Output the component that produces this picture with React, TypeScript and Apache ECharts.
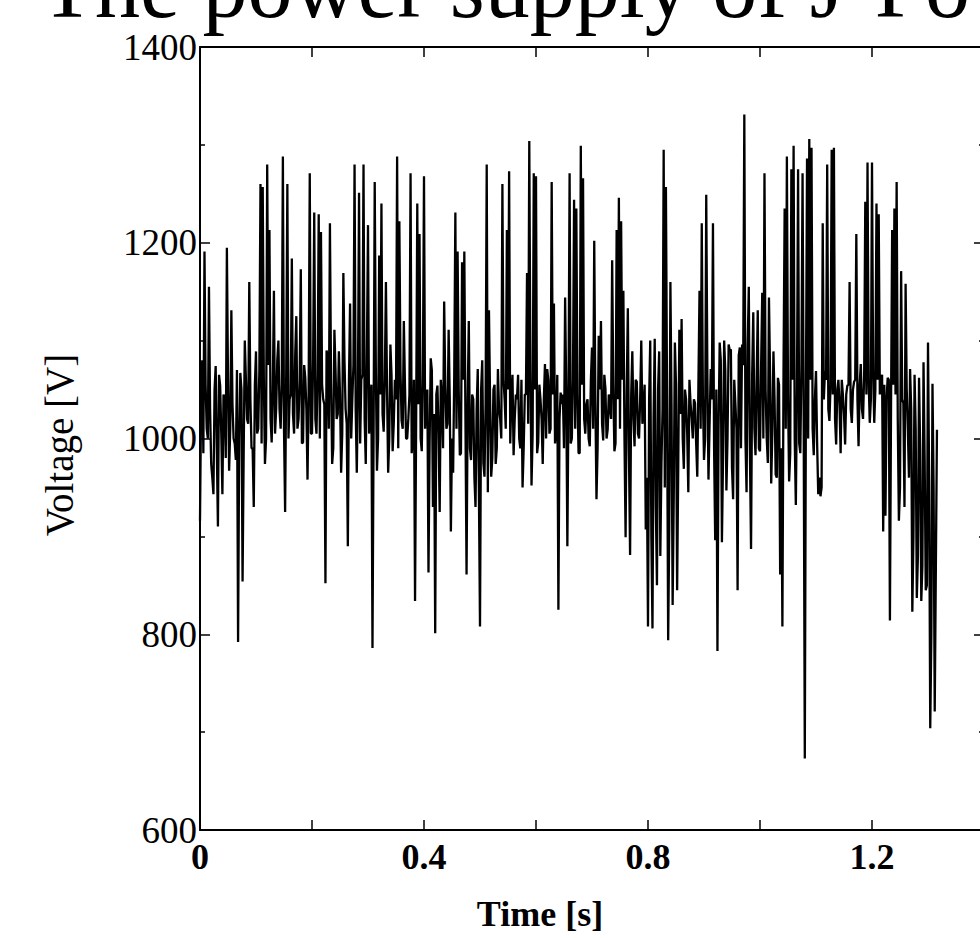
import React, { useEffect, useRef } from "react";
import * as echarts from "echarts";

const chartTitle = "The power supply of J-Power";
const xAxisName = "Time [s]";
const yAxisName = "Voltage [V]";
const xTickLabels = ["0", "0.4", "0.8", "1.2"];
const yRange = [600, 1400];
const xRange = [0, 1.4];
const sampleStep = 0.004; // s between the main samples; the core-band samples sit halfway between them

// extremes read at t = i * sampleStep
const voltage = [
  916, 1080, 1191, 1010, 1155, 974, 943, 1074, 910, 1054,
  943, 1040, 1195, 967, 1131, 1000, 978, 792, 1067, 854,
  1100, 1020, 1160, 990, 930, 1089, 1010, 1260, 1257, 974,
  1280, 1213, 996, 1151, 1030, 1100, 1010, 1288, 925, 1260,
  1040, 1184, 1005, 1125, 1020, 1173, 996, 1062, 958, 1271,
  1005, 1231, 1005, 1229, 1211, 1040, 852, 1085, 1220, 974,
  1111, 1020, 1089, 965, 1169, 1030, 890, 1138, 1040, 1280,
  965, 1251, 1060, 1280, 974, 1218, 1040, 786, 1262, 967,
  1187, 1240, 1007,
  1160, 965, 1096, 987, 1060, 1288, 1222, 1018, 1120, 1000,
  1020, 1271, 1000, 834, 1240, 1209, 987, 1268, 1040, 863,
  1082, 930, 801, 1054, 925, 1040, 1140, 1010, 1111, 905,
  965, 1231, 1191, 983, 1180, 1191, 861, 1120, 978, 1040,
  930, 1071, 808, 1080, 961, 1280, 1131, 961, 1050, 974,
  1071, 1020, 1260, 1040, 1213, 1273, 1040, 983, 1045, 1065,
  990, 950, 1045, 1169, 1304, 952, 1271, 1268, 996, 1040,
  974, 1076, 1071, 1005, 1262, 1138, 1010, 825, 1047, 1045,
  1144,
  890, 1271, 1000, 1244, 1235, 985, 1299, 1266, 1005, 1040,
  992, 1093, 1202, 938, 1105, 1120, 998, 1051, 1009, 1032,
  1182, 987, 1213, 1246, 1222, 1151, 899, 1133, 881, 1089,
  992, 1058, 1000, 1100, 1030, 907, 808, 1100, 806, 1102,
  850, 1089, 974, 1295, 1257, 794, 1160, 830, 1098, 845,
  1111, 1122, 969, 1040, 945, 1036, 1000, 1036, 961, 1151,
  1220, 978, 1249, 958, 1071, 1220, 896, 783, 1098, 894,
  1100, 947, 1096, 1091, 938, 1036, 845, 1093, 1096, 1331,
  945, 1155, 887, 1129,
  983, 1131, 987, 1149, 1271, 1000, 1144, 954, 1089, 963,
  1062, 861, 808, 1235, 1288, 956, 1275, 1299, 932, 1275,
  985, 1271, 673, 1286, 1306, 1297, 983, 1069, 943, 941,
  1220, 1069, 1280, 1018, 1295, 1297, 994, 1060, 985, 1045,
  994, 1054, 1160, 1016, 1058, 1209, 992, 1076, 1020, 1242,
  1282, 1016, 1282, 1016, 1240, 1229, 1062, 905, 921, 1062,
  814, 1213, 1235, 1262, 916, 1171, 1036, 1158, 1009, 1071,
  823, 1065, 837, 1062, 834, 1078, 845, 1098, 704, 1056,
  721, 1009,
];

// dense core-band readings at t = (i + 0.5) * sampleStep
const coreBand = [
  1040, 985, 1055, 1000, 1030, 960, 1050, 990, 1065, 1005,
  1045, 980, 1060, 1010, 1035, 995, 1070, 1000, 1050, 985,
  1060, 1015, 1040, 990, 1055, 1005, 1070, 995,
  1060, 1000, 1075, 1020, 1050, 1005, 1080, 1030, 1055, 1010,
  1070, 1000, 1045, 1025, 1085, 1010, 1060, 995, 1075, 1030,
  1050, 1005, 1080, 1020, 1065, 1000, 1055, 1035, 1090, 1010,
  1060, 990, 1070, 1025, 1045, 1005, 1080, 1015, 1060, 1000,
  1075, 1030, 1050, 995, 1065, 1020, 1085, 1005, 1055, 1010,
  1070, 1000, 1045, 1025, 1060,
  1050, 1000, 1065, 1015, 1040, 990, 1070, 1010, 1055, 1000,
  1045, 985, 1060, 1020, 1035, 1000, 1065, 1010, 1050, 995,
  1070, 1025, 1045, 1005, 1060, 990, 1055, 1015, 1040, 1000,
  1065, 1010, 1050, 985, 1060, 1020, 1040,
  990, 1045, 960, 1030, 950, 1050, 975, 1035, 945, 1040, 980, 1055, 990, 1030, 1000, 1060,
  1010, 1050, 995, 1065, 1020, 1040, 1000, 1060, 990, 1045,
  1015, 1070, 1005, 1050, 985, 1055, 1020, 1040, 1000, 1060,
  1010, 1045, 995, 1065, 1020, 1035, 990, 1050,
  1040, 995, 1060, 1010, 1045, 985, 1055, 1020, 1035, 1000,
  1060, 1010, 1040, 990, 1050, 1015, 1065, 1000, 1045, 1020,
  1055, 995, 1040, 1010, 1060, 1000, 1050, 985, 1045, 1020,
  1060, 1005, 1040, 1015, 1055,
  960, 1040, 900, 1020, 930, 1050, 880, 1030, 950, 1045, 910, 1035, 940, 1055, 970, 1025, 1000,
  1050, 1005, 1060, 1020, 1040, 995, 1055, 1010, 1045, 1000, 1065, 1015, 1040, 990, 1050, 1010,
  1080, 980, 1070, 1000, 1090, 970, 1060, 1010, 1085, 990, 1075, 1000, 1095, 985, 1065, 1010,
  1060, 990, 1075, 1000, 1050, 975, 1065, 1005, 1040, 960,
  1055, 990, 1070, 1010, 1045, 985, 1060, 1000, 1050, 995,
  1075, 1020, 1045, 1000, 1060, 1010, 1040, 995,
  960, 950, 1040, 1060, 1030, 1055, 1045, 1020, 1050, 1035,
  1060, 1025, 1045, 1055, 1030, 1050, 1060, 1040, 1055, 1030,
  1065, 1045, 1060, 1040, 1070, 1050, 1060, 1045, 1065, 1055,
  1040, 1060, 1035, 1055, 1045,
  1020, 950, 1040, 930, 1050, 960, 1030, 900, 1010, 880,
  990, 870, 980, 850, 960, 800, 950,
];

const FONT = '"Liberation Serif", "Times New Roman", serif';

export default function App() {
  const ref = useRef<HTMLDivElement>(null);
  useEffect(() => {
    if (!ref.current) return;
    const chart = echarts.init(ref.current, null, { renderer: "svg" });
    const data: number[][] = [];
    voltage.forEach((v, i) => {
      data.push([i * sampleStep, v]);
      if (i < coreBand.length) data.push([(i + 0.5) * sampleStep, coreBand[i]]);
    });
    const axisLine = { show: true, onZero: false, lineStyle: { color: "#000", width: 2 } };
    const tick = { show: true, inside: true, length: 10, lineStyle: { color: "#000", width: 1.5 } };
    const minor = { show: true, splitNumber: 2, length: 5, lineStyle: { color: "#000", width: 1.5 } };
    const fmtX = (v: number) => {
      const s = String(Math.round(v * 10) / 10);
      return xTickLabels.includes(s) ? s : "";
    };
    chart.setOption({
      animation: false,
      backgroundColor: "#fff",
      grid: { left: 200, top: 47, width: 784, height: 783, containLabel: false, outerBoundsMode: "none" },
      xAxis: [
        {
          type: "value", min: xRange[0], max: xRange[1], interval: 0.2, position: "bottom",
          axisLine, axisTick: tick, splitLine: { show: false },
          axisLabel: { formatter: fmtX, fontFamily: FONT, fontSize: 36, fontWeight: "bold", color: "#000", margin: 9 },
        },
        {
          type: "value", min: xRange[0], max: xRange[1], interval: 0.2, position: "top",
          axisLine, axisTick: tick, splitLine: { show: false }, axisLabel: { show: false },
        },
      ],
      yAxis: [
        {
          type: "value", min: yRange[0], max: yRange[1], interval: 200, position: "left",
          axisLine, axisTick: tick, minorTick: minor, splitLine: { show: false }, minorSplitLine: { show: false },
          axisLabel: { formatter: (v: number) => String(v), fontFamily: FONT, fontSize: 37, color: "#000", margin: 3 },
        },
        {
          type: "value", min: yRange[0], max: yRange[1], interval: 200, position: "right",
          axisLine, axisTick: tick, minorTick: minor, splitLine: { show: false }, minorSplitLine: { show: false },
          axisLabel: { show: false },
        },
      ],
      series: [
        {
          type: "line", xAxisIndex: 0, yAxisIndex: 0, data, showSymbol: false, silent: true,
          lineStyle: { color: "#000", width: 2.3 },
        },
      ],
      graphic: [
        {
          type: "text", x: 40, y: -14,
          style: { text: chartTitle, font: `90px ${FONT}`, fill: "#000", textAlign: "left", verticalAlign: "middle", textVerticalAlign: "middle" },
        },
        {
          type: "text", x: 59, y: 445, rotation: Math.PI / 2,
          style: { text: yAxisName, font: `39px ${FONT}`, fill: "#000", textAlign: "center", verticalAlign: "middle", textVerticalAlign: "middle" },
        },
        {
          type: "text", x: 540, y: 914,
          style: { text: xAxisName, font: `bold 36px ${FONT}`, fill: "#000", textAlign: "center", verticalAlign: "middle", textVerticalAlign: "middle" },
        },
      ],
    });
    return () => chart.dispose();
  }, []);
  return <div ref={ref} style={{ position: "fixed", left: 0, top: 0, width: 980, height: 938 }} />;
}
